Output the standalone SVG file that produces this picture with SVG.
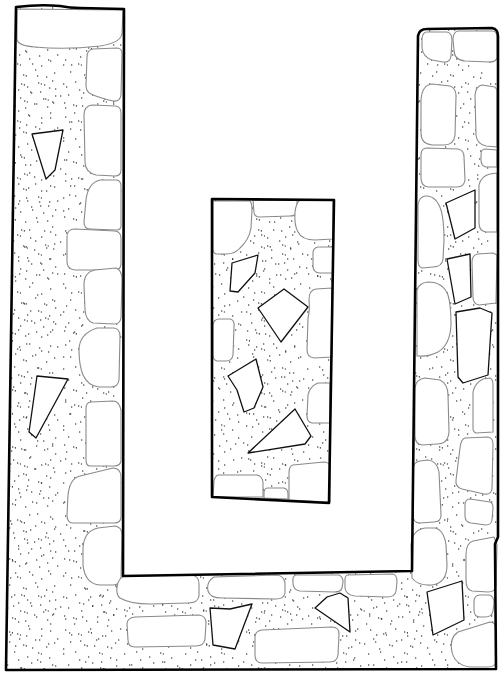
<svg xmlns="http://www.w3.org/2000/svg" width="500" height="673" viewBox="0 0 500 673">
  <style>
    .dots { fill: none; stroke: #111; stroke-width: 1.15; }
    .fillA { fill: url(#grainA); stroke: none; }
    .fillB { fill: url(#grainB); stroke: none; }
    .stone { fill: #fff; stroke: #8a8a8a; stroke-width: 1.1; stroke-linejoin: round; }
    .block { fill: #fff; stroke: #111; stroke-width: 1.3; stroke-linejoin: round; }
    .edge { fill: none; stroke: #000; stroke-width: 2.6; stroke-linejoin: round; }
  </style>
  <defs>
    <!-- two mortar grain tiles with unrelated periods so the stipple doesn't look gridded -->
    <pattern id="grainA" width="61" height="57" patternUnits="userSpaceOnUse">
      <path class="dots" d="M4 3h1.3M17 7h1.3m1.6 1h1.1M29 2h1.3M41 9h1.3M50 4h1.3M9 15h1.3M23 18h1.3m1.4 .8h1.1M35 13h1.3M46 20h1.3M54 16h1.3M2 27h1.3M14 25h1.3M27 30h1.3M38 26h1.3m1.5 1h1.1M49 31h1.3M7 38h1.3M20 41h1.3M31 36h1.3M43 42h1.3M55 39h1.3M12 48h1.3m1.5 .9h1.1M25 51h1.3M36 47h1.3M47 50h1.3M3 46h1.3M18 33h1.3M52 45h1.3M10 8h1.3M40 35h1.3"/>
    </pattern>
    <pattern id="grainB" width="79" height="73" patternUnits="userSpaceOnUse">
      <path class="dots" d="M6 5h1.3M21 11h1.3m1.5 .9h1.1M37 3h1.3M52 8h1.3M66 14h1.3M13 22h1.3M30 19h1.3M45 26h1.3m1.4 1h1.1M60 23h1.3M3 33h1.3M18 38h1.3M34 31h1.3M50 40h1.3M65 35h1.3M9 48h1.3m1.6 .8h1.1M26 52h1.3M41 45h1.3M57 55h1.3M69 49h1.3M15 62h1.3M32 64h1.3M48 60h1.3M63 65h1.3M1 57h1.3M24 28h1.3m1.5 1h1.1M39 56h1.3M55 16h1.3M11 13h1.3M44 12h1.3M28 42h1.3M4 20h1.3M74 40h1.3M19 55h1.3M53 30h1.3"/>
    </pattern>
    <path id="uWall" d="M16,7 Q40,4 60,6 Q70,8 80,8 L124,9 L123,576 L412,571 L418,36 Q419,29 427,29 L492,28 Q498,29 498,36 L498,537 L495,544 L496,669 L6,670 Z"/>
    <path id="core" d="M212,199 L334,200 L329,503 L212,497 Z"/>
  </defs>

  <!-- U-shaped wall: mortar fill -->
  <g id="wall-fill">
    <use href="#uWall" fill="#fff"/>
    <use href="#uWall" class="fillA"/>
    <use href="#uWall" class="fillB"/>
  </g>

  <!-- free-standing core block: mortar fill -->
  <g id="core-fill">
    <use href="#core" fill="#fff"/>
    <use href="#core" class="fillA"/>
    <use href="#core" class="fillB"/>
  </g>

  <!-- dressed facing stones, left arm -->
  <g id="stones-left">
    <path class="stone" d="M17,9 L123,10 L122,34 Q120,43 100,46 Q65,50 35,47 Q19,46 17,40 Z"/>
    <path class="stone" d="M93,49 L117,48 Q122,48 122,54 L121,95 Q120,102 113,101 Q100,98 91,94 Q86,92 86,85 L87,57 Q87,50 93,49 Z"/>
    <path class="stone" d="M92,105 L116,106 Q121,107 121,113 L121,170 Q121,176 115,176 L96,175 Q85,172 85,162 L84,115 Q84,106 92,105 Z"/>
    <path class="stone" d="M100,180 L117,180 Q121,181 121,186 L121,226 Q121,230 116,230 L90,229 Q84,229 84,222 L86,200 Q88,183 100,180 Z"/>
    <path class="stone" d="M75,229 L115,231 Q121,232 121,238 L121,264 Q121,270 114,270 L75,270 Q67,269 67,262 L67,237 Q67,229 75,229 Z"/>
    <path class="stone" d="M95,270 L116,268 Q122,270 122,280 L121,318 Q120,324 114,324 L93,323 Q86,321 85,310 L84,285 Q84,272 95,270 Z"/>
    <path class="stone" d="M97,328 L114,328 Q120,329 120,336 L119,380 Q118,387 111,387 L99,387 Q88,386 83,375 Q79,365 79,350 Q79,334 97,328 Z"/>
    <path class="stone" d="M91,402 L113,401 Q119,401 121,410 L121,460 Q121,466 114,466 L90,466 Q86,466 86,460 L86,409 Q86,402 91,402 Z"/>
    <path class="stone" d="M80,476 L113,468 Q120,468 121,476 L121,517 Q121,523 114,523 L73,523 Q67,523 67,515 L68,495 Q70,478 80,476 Z"/>
    <path class="stone" d="M98,528 L115,526 Q122,527 122,535 L121,578 Q120,585 113,585 L100,585 Q85,584 83,565 L83,548 Q84,531 98,528 Z"/>
  </g>

  <!-- dressed facing stones, base -->
  <g id="stones-base">
    <path class="stone" d="M125,576 L192,575 Q199,576 199,584 L199,596 Q198,603 188,603 L150,604 Q130,604 120,598 Q116,595 117,587 Q118,578 125,576 Z"/>
    <path class="stone" d="M214,577 L277,575 Q284,576 285,583 L285,593 Q284,599 276,599 L222,598 Q210,598 208,591 Q206,582 214,577 Z"/>
    <path class="stone" d="M296,575 L339,575 Q343,577 343,582 L342,588 Q341,592 334,592 L300,591 Q293,590 293,583 Q292,576 296,575 Z"/>
    <path class="stone" d="M348,575 L393,574 Q397,575 397,582 L396,591 Q395,597 387,597 L355,596 Q346,595 345,588 L345,580 Q345,575 348,575 Z"/>
    <path class="stone" d="M262,630 L332,627 Q339,627 339,634 L338,655 Q337,662 330,662 L262,663 Q255,663 255,655 L255,637 Q255,631 262,630 Z"/>
    <path class="stone" d="M135,617 L199,615 Q206,616 206,623 L205,639 Q204,646 196,646 L135,647 Q128,647 128,640 L127,624 Q127,618 135,617 Z"/>
  </g>

  <!-- dressed facing stones, right arm -->
  <g id="stones-right">
    <path class="stone" d="M427,32 L447,32 Q452,33 452,40 L451,56 Q450,63 443,62 L432,60 Q423,57 422,48 L422,38 Q423,32 427,32 Z"/>
    <path class="stone" d="M458,31 L492,31 Q497,31 497,37 L497,58 Q496,62 489,62 L465,61 Q454,60 454,50 L453,40 Q453,32 458,31 Z"/>
    <path class="stone" d="M432,84 L450,86 Q456,88 456,96 L455,135 Q454,145 444,145 L432,145 Q421,144 421,133 L421,100 Q422,85 432,84 Z"/>
    <path class="stone" d="M482,85 L495,87 L497,90 L497,147 L486,146 Q477,144 476,135 L475,95 Q476,86 482,85 Z"/>
    <path class="stone" d="M427,148 L458,149 Q464,150 464,157 L465,180 Q464,187 457,187 L428,187 Q421,186 421,178 L421,155 Q421,148 427,148 Z"/>
    <path class="stone" d="M485,149 L497,150 L497,167 L486,167 Q481,166 481,160 L481,155 Q481,149 485,149 Z"/>
    <path class="stone" d="M490,174 L497,173 L497,232 L486,232 Q479,231 479,223 L479,185 Q481,176 490,174 Z"/>
    <path class="stone" d="M425,196 Q436,195 441,210 Q444,220 444,240 L443,259 Q442,267 433,267 L422,268 Q418,267 418,260 L418,205 Q419,197 425,196 Z"/>
    <path class="stone" d="M478,254 L493,253 L497,255 L496,303 L479,305 Q473,304 473,297 L472,262 Q472,255 478,254 Z"/>
    <path class="stone" d="M428,282 Q443,282 448,295 Q451,305 451,325 Q450,345 438,352 Q428,357 419,356 L417,356 L417,290 Q419,283 428,282 Z"/>
    <path class="stone" d="M425,378 L440,380 Q448,384 448,395 L449,432 Q448,444 437,444 L422,445 Q415,444 415,436 L415,388 Q416,379 425,378 Z"/>
    <path class="stone" d="M483,379 L490,378 Q493,379 493,385 L493,432 L476,433 Q473,432 473,428 L473,392 Q475,383 483,379 Z"/>
    <path class="stone" d="M465,438 L488,437 Q493,438 493,444 L492,489 Q491,495 484,494 L462,489 Q455,487 456,480 L460,448 Q461,439 465,438 Z"/>
    <path class="stone" d="M420,461 L428,460 Q437,461 439,472 L441,515 Q441,522 434,522 L420,523 Q413,523 413,515 L413,470 Q413,462 420,461 Z"/>
    <path class="stone" d="M470,499 L490,502 Q493,503 493,508 L492,520 Q491,525 486,525 L471,523 Q465,522 465,516 L465,505 Q465,499 470,499 Z"/>
    <path class="stone" d="M425,528 L435,528 Q444,530 446,545 L447,565 Q447,583 432,585 Q418,586 412,578 L411,545 Q412,530 425,528 Z"/>
    <path class="stone" d="M473,541 L494,537 L497,545 L496,586 Q495,592 488,592 L472,591 Q466,590 466,580 L466,555 Q466,543 473,541 Z"/>
    <path class="stone" d="M480,595 L489,595 Q494,596 494,603 L493,611 Q492,617 485,617 L480,617 Q474,617 474,610 L474,602 Q474,595 480,595 Z"/>
    <path class="stone" d="M458,632 L490,622 Q496,622 496,630 L496,662 Q495,667 488,667 L470,667 Q455,665 452,652 Q449,638 458,632 Z"/>
  </g>

  <!-- facing stones of the core block -->
  <g id="stones-core">
    <path class="stone" d="M213,201 L250,201 Q252,203 252,210 L251,228 Q249,240 240,248 Q235,254 226,254 L216,254 Q213,253 213,249 Z"/>
    <path class="stone" d="M253,200 L297,200 L297,212 Q296,216 290,216 L260,217 Q254,217 254,212 Z"/>
    <path class="stone" d="M300,200 L333,200 L333,239 L315,240 Q302,240 298,232 Q294,225 295,212 Q296,203 300,200 Z"/>
    <path class="stone" d="M318,247 L333,247 L333,273 L319,273 Q313,272 313,266 L313,253 Q313,248 318,247 Z"/>
    <path class="stone" d="M316,289 L332,288 L332,357 L314,358 Q307,357 307,350 L308,318 Q310,310 309,300 Q309,290 316,289 Z"/>
    <path class="stone" d="M219,319 L230,319 Q235,320 234,327 L233,355 Q232,361 226,361 L217,361 Q213,360 213,355 L213,325 Q214,319 219,319 Z"/>
    <path class="stone" d="M318,383 L330,383 L330,423 L312,423 Q307,422 307,416 L308,395 Q310,386 318,383 Z"/>
    <path class="stone" d="M218,475 L257,475 Q262,476 263,482 L263,497 L213,497 L214,481 Q215,476 218,475 Z"/>
    <path class="stone" d="M268,488 L284,488 Q288,489 288,494 L288,499 L264,498 L264,493 Q264,488 268,488 Z"/>
    <path class="stone" d="M293,465 L324,462 Q330,462 330,468 L330,502 L289,500 L289,473 Q289,466 293,465 Z"/>
  </g>

  <!-- rubble blocks set in the mortar -->
  <g id="rubble">
    <polygon class="block" points="32,134 63,130 55,170 46,179"/>
    <polygon class="block" points="37,376 68,379 36,438 29,432"/>
    <polygon class="block" points="232,263 258,255 255,273 238,292 230,291"/>
    <polygon class="block" points="258,308 284,289 308,307 281,342"/>
    <polygon class="block" points="228,376 256,359 263,387 254,408 244,412 237,390"/>
    <polygon class="block" points="248,453 295,409 311,436 305,444"/>
    <polygon class="block" points="210,608 230,609 252,604 235,649 213,645"/>
    <polygon class="block" points="315,608 327,597 340,593 348,598 350,632"/>
    <polygon class="block" points="427,592 462,581 464,620 433,635"/>
    <polygon class="block" points="446,203 475,190 475,228 455,239"/>
    <polygon class="block" points="447,259 470,254 471,297 455,304"/>
    <polygon class="block" points="456,312 480,308 492,313 488,375 463,383 458,377"/>
  </g>

  <!-- outer edges of the wall and the core -->
  <g id="edges">
    <use href="#uWall" class="edge"/>
    <use href="#core" class="edge"/>
  </g>
</svg>
